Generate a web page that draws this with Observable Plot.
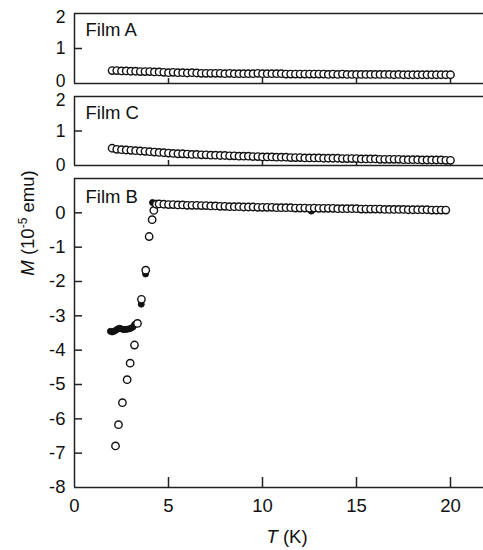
<!DOCTYPE html>
<html>
<head>
<meta charset="utf-8">
<script src="https://cdn.jsdelivr.net/npm/d3@7"></script>
<script src="https://cdn.jsdelivr.net/npm/@observablehq/plot@0.6"></script>
<style>
  html, body { margin: 0; padding: 0; background: white; overflow: hidden; }
  #chart { position: relative; width: 483px; height: 550px; overflow: hidden; font-family: "Liberation Sans", Arial, sans-serif; }
  #chart svg { position: absolute; left: 0; top: 0; }
  .lbl { position: absolute; white-space: nowrap; font-size: 18.5px; color: #111; font-family: "Liberation Sans", Arial, sans-serif; }
</style>
</head>
<body>
<div id="chart"></div>
<script>
// ---------------- data ----------------
const panelNames = ["Film A", "Film C", "Film B"];
const xTicks = [0, 5, 10, 15, 20];
const xInnerTicks = [5, 10, 15, 20];
const yTicksAC = [0, 1, 2];
const yTicksB = [0, -1, -2, -3, -4, -5, -6, -7, -8];

// temperatures (K) for films A and C
const tempsAC = [2.0, 2.25, 2.5, 2.75, 3.0, 3.25, 3.5, 3.75, 4.0, 4.25, 4.5, 4.75,
  5.0, 5.25, 5.5, 5.75, 6.0, 6.25, 6.5, 6.75, 7.0, 7.25, 7.5, 7.75,
  8.0, 8.25, 8.5, 8.75, 9.0, 9.25, 9.5, 9.75, 10.0, 10.25, 10.5, 10.75,
  11.0, 11.25, 11.5, 11.75, 12.0, 12.25, 12.5, 12.75, 13.0, 13.25, 13.5, 13.75,
  14.0, 14.25, 14.5, 14.75, 15.0, 15.25, 15.5, 15.75, 16.0, 16.25, 16.5, 16.75,
  17.0, 17.25, 17.5, 17.75, 18.0, 18.25, 18.5, 18.75, 19.0, 19.25, 19.5, 19.75, 20.0];

const filmA = [0.37, 0.37, 0.36, 0.36, 0.35, 0.35, 0.34, 0.34, 0.34, 0.33, 0.33, 0.32,
  0.31, 0.32, 0.31, 0.31, 0.30, 0.31, 0.30, 0.29, 0.29, 0.29, 0.29, 0.29,
  0.28, 0.29, 0.28, 0.28, 0.28, 0.28, 0.28, 0.29, 0.28, 0.28, 0.28, 0.28,
  0.28, 0.27, 0.27, 0.27, 0.27, 0.27, 0.27, 0.27, 0.27, 0.27, 0.26, 0.27,
  0.26, 0.27, 0.26, 0.26, 0.26, 0.26, 0.26, 0.26, 0.26, 0.26, 0.26, 0.26,
  0.25, 0.26, 0.25, 0.25, 0.25, 0.25, 0.25, 0.25, 0.25, 0.25, 0.25, 0.25, 0.25];

const filmC = [0.50, 0.47, 0.46, 0.45, 0.44, 0.43, 0.42, 0.41, 0.40, 0.39, 0.38, 0.37,
  0.36, 0.35, 0.34, 0.34, 0.33, 0.32, 0.32, 0.31, 0.31, 0.30, 0.30, 0.29,
  0.29, 0.28, 0.28, 0.27, 0.27, 0.27, 0.26, 0.26, 0.25, 0.25, 0.25, 0.24,
  0.24, 0.24, 0.23, 0.23, 0.23, 0.22, 0.22, 0.22, 0.22, 0.21, 0.21, 0.21,
  0.21, 0.20, 0.20, 0.20, 0.20, 0.19, 0.19, 0.19, 0.19, 0.18, 0.18, 0.18,
  0.18, 0.18, 0.17, 0.17, 0.17, 0.17, 0.16, 0.16, 0.16, 0.16, 0.16, 0.15, 0.15];

// film B, open circles
const tempsBOpen = [2.18, 2.34, 2.55, 2.80, 2.96, 3.19, 3.35, 3.56, 3.79, 3.97, 4.13, 4.22, 4.35,
  4.5, 4.75, 5.0, 5.25, 5.5, 5.75, 6.0, 6.25, 6.5, 6.75, 7.0, 7.25, 7.5, 7.75,
  8.0, 8.25, 8.5, 8.75, 9.0, 9.25, 9.5, 9.75, 10.0, 10.25, 10.5, 10.75,
  11.0, 11.25, 11.5, 11.75, 12.0, 12.25, 12.5, 12.75, 13.0, 13.25, 13.5, 13.75,
  14.0, 14.25, 14.5, 14.75, 15.0, 15.25, 15.5, 15.75, 16.0, 16.25, 16.5, 16.75,
  17.0, 17.25, 17.5, 17.75, 18.0, 18.25, 18.5, 18.75, 19.0, 19.25, 19.5, 19.75];
const filmBOpen = [-6.79, -6.17, -5.53, -4.86, -4.38, -3.85, -3.22, -2.52, -1.67, -0.69, -0.20, 0.07, 0.25,
  0.26, 0.25, 0.24, 0.24, 0.23, 0.23, 0.22, 0.22, 0.22, 0.21, 0.21, 0.20, 0.20, 0.19,
  0.19, 0.18, 0.18, 0.18, 0.17, 0.17, 0.17, 0.16, 0.16, 0.16, 0.16, 0.15,
  0.15, 0.15, 0.15, 0.14, 0.14, 0.14, 0.13, 0.14, 0.13, 0.13, 0.13, 0.13,
  0.12, 0.12, 0.12, 0.12, 0.12, 0.11, 0.11, 0.11, 0.11, 0.11, 0.10, 0.10,
  0.10, 0.10, 0.10, 0.09, 0.09, 0.09, 0.09, 0.09, 0.08, 0.08, 0.08, 0.08];

// film B, filled dots
const tempsBFilled = [1.91, 2.0, 2.1, 2.2, 2.3, 2.4, 2.5, 2.6, 2.7, 2.8, 2.9, 3.0, 3.1, 3.2, 3.55, 3.78, 4.15, 4.3, 12.6];
const filmBFilled = [-3.45, -3.47, -3.45, -3.42, -3.38, -3.36, -3.38, -3.40, -3.40, -3.39, -3.38, -3.36, -3.33, -3.25, -2.66, -1.78, 0.30, 0.28, 0.05];

// ---------------- drawing ----------------
const FONT = '"Liberation Sans", Arial, sans-serif';
const W = 483, H = 550;
const X0 = 74, PXPERK = 18.8;
const AX = "#222";

const pts = (xs, ys) => xs.map((t, i) => ({T: t, M: ys[i]}));

function panel({name, data, filled, yDomain, yTicks, yInner, yLabelShift, top, bottom, xTickLen, showX, fs, nameDy}) {
  const innerW = W - X0;
  const innerH = bottom - top;
  const marks = [
    Plot.ruleY([yDomain[0], yDomain[1]], {stroke: AX, strokeWidth: 1.5}),
    Plot.ruleX([0], {stroke: AX, strokeWidth: 1.5}),
    Plot.tickY(yInner, {y: d => d, stroke: AX, strokeWidth: 1.5, insetRight: innerW - 8}),
    Plot.tickX(xInnerTicks, {x: d => d, stroke: AX, strokeWidth: 1.5, insetTop: innerH - xTickLen}),
    Plot.text([name], {frameAnchor: "top-left", text: d => d, dx: 11, dy: nameDy, lineAnchor: "top", textAnchor: "start", fontSize: 18.5, fill: "#111"})
  ];
  for (const t of yTicks) {
    marks.push(Plot.axisY([t], {tickSize: 0, tickPadding: 9, tickFormat: d => String(d), fontSize: fs, label: null, fill: "#111", dy: (yLabelShift && yLabelShift[t]) || 0}));
  }
  if (showX) marks.push(Plot.axisX(xTicks, {tickSize: 0, tickPadding: 11, tickFormat: d => String(d), fontSize: 18.5, label: null, fill: "#111"}));
  else marks.push(Plot.axisX([], {label: null}));
  if (filled) marks.push(Plot.dot(filled, {x: "T", y: "M", r: 3, fill: "#111", stroke: "#111", strokeWidth: 1}));
  marks.push(Plot.dot(data, {x: "T", y: "M", r: 3.7, fill: "white", stroke: "#111", strokeWidth: 1.4}));
  return Plot.plot({
    width: W, height: H,
    marginLeft: X0, marginRight: 0, marginTop: top, marginBottom: H - bottom,
    style: {background: "transparent", fontFamily: FONT, overflow: "visible"},
    x: {domain: [0, 22], range: [X0, X0 + 22 * PXPERK]},
    y: {domain: yDomain},
    marks
  });
}

const chart = document.getElementById("chart");
chart.append(panel({name: panelNames[0], data: pts(tempsAC, filmA), yDomain: [0, 2], yTicks: yTicksAC, yInner: [1], yLabelShift: {2: 4, 0: -2}, top: 13, bottom: 83, xTickLen: 5, showX: false, fs: 17.5, nameDy: 9}));
chart.append(panel({name: panelNames[1], data: pts(tempsAC, filmC), yDomain: [0, 2], yTicks: yTicksAC, yInner: [1], yLabelShift: {2: 4, 0: 0}, top: 96, bottom: 165, xTickLen: 5, showX: false, fs: 17.5, nameDy: 9}));
chart.append(panel({name: panelNames[2], data: pts(tempsBOpen, filmBOpen), filled: pts(tempsBFilled, filmBFilled), yDomain: [-8, 1], yTicks: yTicksB, yInner: yTicksB.slice(0, -1), top: 178, bottom: 487, xTickLen: 10, showX: true, fs: 18.5, nameDy: 11}));

const yl = document.createElement("div");
yl.className = "lbl";
yl.style.left = "28px"; yl.style.top = "223px";
yl.style.transform = "translate(-50%, -50%) rotate(-90deg)";
yl.innerHTML = '<i>M</i> (10<sup style="font-size:12px;vertical-align:0;position:relative;top:-7px">-5</sup> emu)';
chart.append(yl);

const xl = document.createElement("div");
xl.className = "lbl";
xl.style.left = "287px"; xl.style.top = "537px";
xl.style.transform = "translate(-50%, -50%)";
xl.innerHTML = '<i>T</i> (K)';
chart.append(xl);
</script>
</body>
</html>
